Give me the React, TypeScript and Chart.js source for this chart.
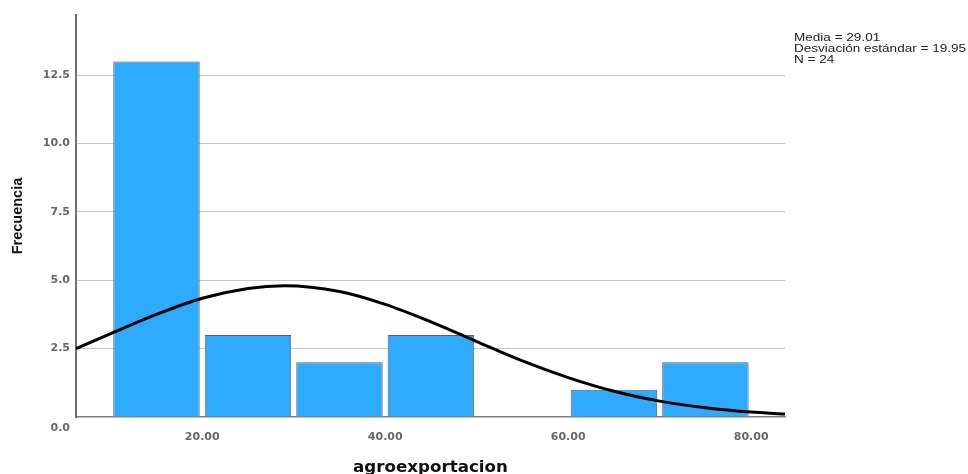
import React, { useEffect, useRef } from 'react';
import { Chart, registerables } from 'chart.js';

Chart.register(...registerables);

// Histogram bins (centres of 10-wide bins) and frequencies
const binCenters = [15, 25, 35, 45, 65, 75];
const frequencies = [13, 3, 2, 3, 1, 2];

// Normal curve
const curveX = [6.2, 10, 15, 20, 25, 29, 35, 40, 45, 50, 55, 60, 65, 70, 75, 80, 83.7];
const curveY = [2.5, 3.05, 3.75, 4.34, 4.7, 4.8, 4.59, 4.12, 3.48, 2.76, 2.05, 1.44, 0.94, 0.58, 0.34, 0.18, 0.11];

// Tick labels
const xTicks = [20, 40, 60, 80];
const yTicks = [0, 2.5, 5, 7.5, 10, 12.5];

const statsLines = ['Media = 29.01', 'Desviación estándar = 19.95', 'N = 24'];
const xTitle = 'agroexportacion';
const yTitle = 'Frecuencia';

const zeroLabelPlugin = {
  id: 'zeroLabel',
  afterDraw(chart: any) {
    const { ctx, chartArea, scales } = chart;
    const y = scales.y;
    ctx.save();
    ctx.font = 'bold 11px "DejaVu Sans"';
    ctx.fillStyle = '#666666';
    ctx.textAlign = 'right';
    ctx.textBaseline = 'middle';
    ctx.fillText(yTicks[0].toFixed(1), chartArea.left - 6, y.getPixelForValue(yTicks[0]) + 11);
    ctx.restore();
  },
};

export default function App() {
  const canvasRef = useRef<HTMLCanvasElement | null>(null);

  useEffect(() => {
    if (!canvasRef.current) return;
    const chart = new Chart(canvasRef.current, {
      type: 'bar',
      data: {
        datasets: [
          {
            type: 'line',
            data: curveX.map((x, i) => ({ x, y: curveY[i] })),
            borderColor: '#000000',
            borderWidth: 3,
            pointRadius: 0,
            cubicInterpolationMode: 'monotone',
            fill: false,
            order: 0,
          } as any,
          {
            type: 'bar',
            data: binCenters.map((x, i) => ({ x, y: frequencies[i] })),
            backgroundColor: '#2eaaff',
            borderColor: '#56646f',
            borderWidth: 1,
            categoryPercentage: 1,
            barPercentage: 0.945,
            order: 1,
          } as any,
        ],
      },
      options: {
        animation: false,
        responsive: true,
        maintainAspectRatio: false,
        layout: { padding: { top: 15, right: 183, left: 0, bottom: 0 } },
        plugins: { legend: { display: false }, tooltip: { enabled: false } },
        scales: {
          x: {
            type: 'linear',
            min: 6.2,
            max: 83.7,
            offset: false,
            afterBuildTicks: (s: any) => {
              s.ticks = xTicks.map((v) => ({ value: v }));
            },
            afterFit: (s: any) => {
              s.height = 57;
            },
            grid: { display: false, drawTicks: false, offset: false },
            border: { display: true, color: '#808080', width: 1.5 },
            ticks: {
              padding: 14,
              color: '#666666',
              font: { family: '"DejaVu Sans"', size: 11, weight: 'bold' },
              callback: (v: any) => Number(v).toFixed(2),
              maxRotation: 0,
            },
            title: {
              display: true,
              text: xTitle,
              color: '#111111',
              font: { family: '"DejaVu Sans"', size: 16.7, weight: 'bold', lineHeight: 1 },
              padding: { top: 0, bottom: -2 },
            },
          },
          y: {
            min: 0,
            max: 14.7,
            afterBuildTicks: (s: any) => {
              s.ticks = yTicks.map((v) => ({ value: v }));
            },
            afterFit: (s: any) => {
              s.width = 76;
            },
            grid: {
              drawTicks: false,
              color: (ctx: any) => (ctx.tick && ctx.tick.value === 0 ? 'rgba(0,0,0,0)' : '#c4c4c4'),
              lineWidth: 1,
            },
            border: { display: true, color: '#707070', width: 2 },
            ticks: {
              padding: 6,
              color: '#666666',
              font: { family: '"DejaVu Sans"', size: 11, weight: 'bold' },
              callback: (v: any) => (Number(v) === 0 ? '' : Number(v).toFixed(1)),
            },
            title: {
              display: true,
              text: yTitle,
              color: '#111111',
              font: { family: '"Liberation Sans"', size: 14.5, weight: 'bold' },
              padding: { top: 9, bottom: 0 },
            },
          },
        },
      } as any,
      plugins: [zeroLabelPlugin],
    });
    return () => chart.destroy();
  }, []);

  return (
    <div style={{ position: 'absolute', left: 0, top: 0, width: 968, height: 474, background: '#ffffff' }}>
      <canvas ref={canvasRef} />
      <div
        style={{
          position: 'absolute',
          left: 794,
          top: 32,
          fontFamily: '"Liberation Sans", Arial, sans-serif',
          fontSize: 10.5,
          lineHeight: '10.8px',
          color: '#222222',
          whiteSpace: 'nowrap',
          transform: 'scaleX(1.29)',
          transformOrigin: 'left top',
        }}
      >
        {statsLines.map((t) => (
          <div key={t}>{t}</div>
        ))}
      </div>
    </div>
  );
}
